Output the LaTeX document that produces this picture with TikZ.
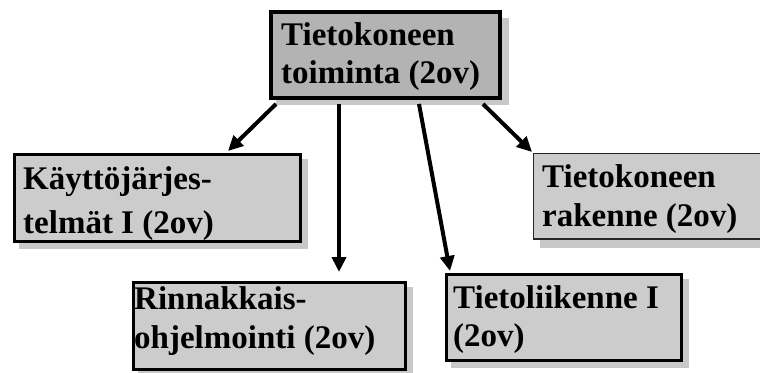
\documentclass[tikz,border=0pt]{standalone}
\usepackage{fontspec}
\setmainfont{Liberation Serif}
\usetikzlibrary{arrows.meta,calc}
\definecolor{topfill}{RGB}{179,179,179}
\definecolor{boxfill}{RGB}{204,204,204}
\definecolor{shadowfill}{RGB}{200,200,200}
\tikzset{
  thickbox/.style={draw=black,line width=3pt,fill=boxfill,rectangle,inner sep=0pt,anchor=north west},
  topbox/.style={draw=black,line width=4pt,fill=topfill,rectangle,inner sep=0pt,anchor=north west},
  thinbox/.style={draw=black!85,line width=1.5pt,fill=boxfill,rectangle,inner sep=0pt,anchor=north west},
  txt/.style={anchor=base west,inner sep=0pt,font=\fontsize{33}{38}\selectfont\bfseries},
  conn/.style={line width=4pt,-{Triangle[length=15pt,width=14pt]}}
}
\begin{document}
\begin{tikzpicture}[x=1pt,y=-1pt]
\clip (0,0) rectangle (760,372);
\fill[white] (0,0) rectangle (760,372);
% shadows
\fill[shadowfill] (276,18) rectangle (509,105);
\fill[shadowfill] (19,159) rectangle (308,249);
\fill[shadowfill] (540,160) rectangle (790,248);
\fill[shadowfill] (138,287) rectangle (413,380);
\fill[shadowfill] (451,279) rectangle (689,368);
% boxes
\node[topbox,minimum width=229pt,minimum height=86pt] (t) at (269,10) {};
\node[thickbox,minimum width=286pt,minimum height=87pt] (k) at (12.5,152.5) {};
\node[thinbox,minimum width=260pt,minimum height=85.5pt] (r) at (532.75,152.75) {};
\node[thickbox,minimum width=272pt,minimum height=87pt] (p) at (131.5,280.5) {};
\node[thickbox,minimum width=235pt,minimum height=86pt] (l) at (444.5,272.5) {};
% texts
\node[txt] (t1) at (281,45) {Tietokoneen};
\node[txt] (t2) at (281,83) {toiminta (2ov)};
\node[txt] (k1) at (23,189) {Käyttöjärjes-};
\node[txt] (k2) at (23,233) {telmät I (2ov)};
\node[txt] (r1) at (542,187) {Tietokoneen};
\node[txt] (r2) at (542,226) {rakenne (2ov)};
\node[txt] (p1) at (134,309) {Rinnakkais-};
\node[txt] (p2) at (134,348) {ohjelmointi (2ov)};
\node[txt] (l1) at (453,308) {Tietoliikenne I};
\node[txt] (l2) at (453,346) {(2ov)};
% connector start points
\coordinate (s1) at (276,104);
\coordinate (s2) at (339,104);
\coordinate (s3) at (419,104);
\coordinate (s4) at (483,104);
\coordinate (e2) at (339,272);
\draw[conn] (s1) -- ($(k.north west)+(215.5,-1.5)$);
\draw[conn] (s2) -- (e2);
\draw[conn] (s3) -- ($(l.north west)+(5.5,-1.5)$);
\draw[conn] (s4) -- ($(r.north west)+(-0.75,-0.75)$);
\end{tikzpicture}
\end{document}
